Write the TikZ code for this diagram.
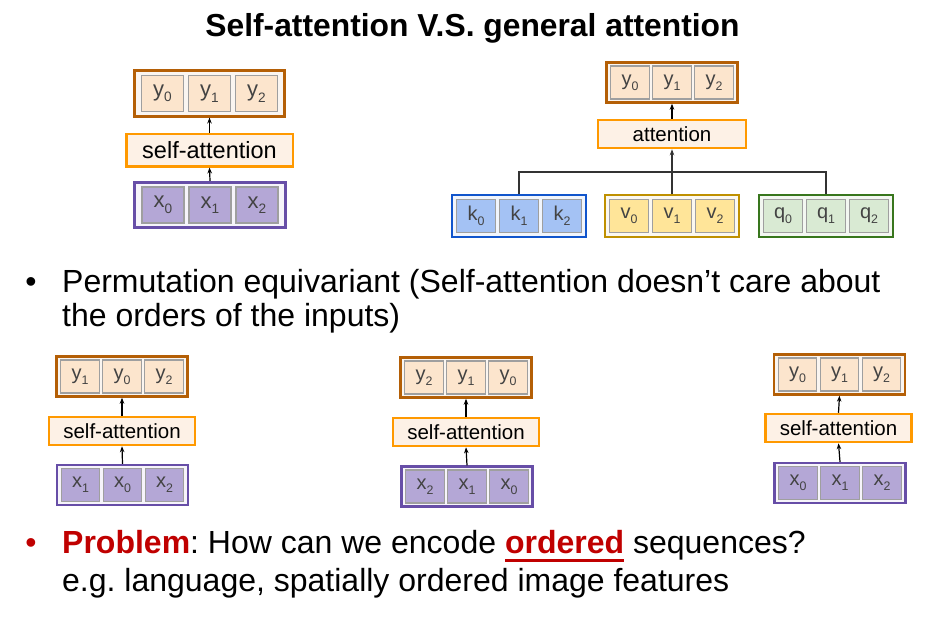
\documentclass[tikz,border=0pt]{standalone}
\usepackage{fontspec}
\setmainfont{Liberation Sans}
\usetikzlibrary{arrows.meta}

\definecolor{ybrd}{HTML}{B45F06}
\definecolor{yfill}{HTML}{FCE5CD}
\definecolor{xbrd}{HTML}{674EA7}
\definecolor{xfill}{HTML}{B4A7D6}
\definecolor{kbrd}{HTML}{1155CC}
\definecolor{kfill}{HTML}{A4C2F4}
\definecolor{vbrd}{HTML}{BF9000}
\definecolor{vfill}{HTML}{FFE599}
\definecolor{qbrd}{HTML}{38761D}
\definecolor{qfill}{HTML}{D9EAD3}
\definecolor{sabrd}{HTML}{FF9900}
\definecolor{safill}{HTML}{FDF1E6}
\definecolor{pred}{HTML}{C00000}
\definecolor{celltxt}{HTML}{434343}

\newcommand{\redline}[1]{\setbox0\hbox{#1}\rlap{\rule[-8.5pt]{\wd0}{2.5pt}}\box0}
\newcommand{\low}[1]{\raisebox{-0.25em}{\scalebox{0.62}{#1}}}
\frenchspacing

\begin{document}
\begin{tikzpicture}[x=1pt,y=-1pt,
    outer/.style={draw,line width=2.6pt,minimum width=150.5pt,minimum height=45.5pt,inner sep=0pt},
    souter/.style={draw,line width=2.4pt,minimum width=131pt,minimum height=40pt,inner sep=0pt},
    cell/.style={draw=gray!75,line width=1.3pt,minimum width=42pt,minimum height=36pt,inner sep=0pt,
                 text=celltxt,font=\fontsize{22}{22}\selectfont},
    scell/.style={cell,minimum width=38.5pt,minimum height=33pt,font=\fontsize{20}{20}\selectfont},
    sabox/.style={draw=sabrd,fill=safill,line width=2.5pt,minimum width=166.5pt,minimum height=32.5pt,
                  inner sep=0pt,font=\fontsize{23.5}{23.5}\selectfont},
    ssabox/.style={sabox,minimum width=146pt,minimum height=28pt,font=\fontsize{20.5}{20.5}\selectfont},
    arr/.style={-{Stealth[length=6pt,width=4.5pt]},line width=1.2pt},
    tree/.style={line width=1.3pt,draw=black!80},
    body/.style={anchor=base west,inner sep=0pt,font=\fontsize{32}{32}\selectfont}]

\useasboundingbox (0,0) rectangle (945,621);

% title
\node[anchor=base,font=\fontsize{31.8}{31.8}\selectfont\bfseries] (title) at (472.5,36)
    {Self-attention V.S. general attention};

% self-attention (top left)
\node[outer,draw=ybrd,fill=ybrd!6] (y0) at (209.5,93.5) {};
\node[cell,fill=yfill] (y0a) at ([xshift=-47pt]y0.center) {y\low{0}};
\node[cell,fill=yfill] (y0b) at (y0.center)               {y\low{1}};
\node[cell,fill=yfill] (y0c) at ([xshift=47pt]y0.center)  {y\low{2}};
\node[sabox] (sa0) at (209.5,150) {self-attention};
\node[outer,draw=xbrd,fill=xbrd!6] (x0) at (210,205) {};
\node[cell,fill=xfill] (x0a) at ([xshift=-47pt]x0.center) {x\low{0}};
\node[cell,fill=xfill] (x0b) at (x0.center)               {x\low{1}};
\node[cell,fill=xfill] (x0c) at ([xshift=47pt]x0.center)  {x\low{2}};
\draw[arr] (x0.north) -- (sa0.south);
\draw[arr] (sa0.north) -- (y0.south);

% general attention (top right)
\node[souter,draw=ybrd,fill=ybrd!6] (ya) at (672,82.5) {};
\node[scell,fill=yfill] (yaa) at ([xshift=-42pt]ya.center) {y\low{0}};
\node[scell,fill=yfill] (yab) at (ya.center)               {y\low{1}};
\node[scell,fill=yfill] (yac) at ([xshift=42pt]ya.center)  {y\low{2}};
\node[ssabox,minimum width=148pt] (att) at (672,134) {attention};
\node[souter,draw=kbrd,fill=kbrd!6,minimum width=133.5pt,minimum height=41.5pt] (k) at (519,216) {};
\node[scell,fill=kfill] (ka) at ([xshift=-43pt]k.center) {k\low{0}};
\node[scell,fill=kfill] (kb) at (k.center)               {k\low{1}};
\node[scell,fill=kfill] (kc) at ([xshift=43pt]k.center)  {k\low{2}};
\node[souter,draw=vbrd,fill=vbrd!6,minimum width=133.5pt,minimum height=41.5pt] (v) at (672,216) {};
\node[scell,fill=vfill] (va) at ([xshift=-43pt]v.center) {v\low{0}};
\node[scell,fill=vfill] (vb) at (v.center)               {v\low{1}};
\node[scell,fill=vfill] (vc) at ([xshift=43pt]v.center)  {v\low{2}};
\node[souter,draw=qbrd,fill=qbrd!6,minimum width=133.5pt,minimum height=41.5pt] (q) at (826,216) {};
\node[scell,fill=qfill] (qa) at ([xshift=-43pt]q.center) {q\low{0}};
\node[scell,fill=qfill] (qb) at (q.center)               {q\low{1}};
\node[scell,fill=qfill] (qc) at ([xshift=43pt]q.center)  {q\low{2}};
\coordinate (jn) at (672,172);
\draw[tree] (k.north) |- (jn) -| (q.north);
\draw[tree,arr] (v.north) -- (att.south);
\draw[arr] (att.north) -- (ya.south);

% bullet 1
\node[body,anchor=base] (b1) at (31,292) {•};
\node[body] (l1) at (62,292) {Permutation equivariant (Self-attention doesn’t care about};
\node[body] (l2) at (62,326) {the orders of the inputs)};

% permuted copies
\node[souter,draw=ybrd,fill=ybrd!6] (y1) at (122,376.5) {};
\node[scell,fill=yfill] (y1a) at ([xshift=-42pt]y1.center) {y\low{1}};
\node[scell,fill=yfill] (y1b) at (y1.center)               {y\low{0}};
\node[scell,fill=yfill] (y1c) at ([xshift=42pt]y1.center)  {y\low{2}};
\node[ssabox] (sa1) at (122,431) {self-attention};
\node[souter,draw=xbrd,fill=xbrd!6] (x1) at (122.5,485) {};
\node[scell,fill=xfill] (x1a) at ([xshift=-42pt]x1.center) {x\low{1}};
\node[scell,fill=xfill] (x1b) at (x1.center)               {x\low{0}};
\node[scell,fill=xfill] (x1c) at ([xshift=42pt]x1.center)  {x\low{2}};
\draw[arr] (x1.north) -- (sa1.south);
\draw[arr] (sa1.north) -- (y1.south);

\node[souter,draw=ybrd,fill=ybrd!6] (y2) at (466,377.5) {};
\node[scell,fill=yfill] (y2a) at ([xshift=-42pt]y2.center) {y\low{2}};
\node[scell,fill=yfill] (y2b) at (y2.center)               {y\low{1}};
\node[scell,fill=yfill] (y2c) at ([xshift=42pt]y2.center)  {y\low{0}};
\node[ssabox] (sa2) at (466,432) {self-attention};
\node[souter,draw=xbrd,fill=xbrd!6] (x2) at (467,486.5) {};
\node[scell,fill=xfill] (x2a) at ([xshift=-42pt]x2.center) {x\low{2}};
\node[scell,fill=xfill] (x2b) at (x2.center)               {x\low{1}};
\node[scell,fill=xfill] (x2c) at ([xshift=42pt]x2.center)  {x\low{0}};
\draw[arr] (x2.north) -- (sa2.south);
\draw[arr] (sa2.north) -- (y2.south);

\node[souter,draw=ybrd,fill=ybrd!6] (y3) at (839.5,374.5) {};
\node[scell,fill=yfill] (y3a) at ([xshift=-42pt]y3.center) {y\low{0}};
\node[scell,fill=yfill] (y3b) at (y3.center)               {y\low{1}};
\node[scell,fill=yfill] (y3c) at ([xshift=42pt]y3.center)  {y\low{2}};
\node[ssabox] (sa3) at (838.5,428) {self-attention};
\node[souter,draw=xbrd,fill=xbrd!6] (x3) at (840,483) {};
\node[scell,fill=xfill] (x3a) at ([xshift=-42pt]x3.center) {x\low{0}};
\node[scell,fill=xfill] (x3b) at (x3.center)               {x\low{1}};
\node[scell,fill=xfill] (x3c) at ([xshift=42pt]x3.center)  {x\low{2}};
\draw[arr] (x3.north) -- (sa3.south);
\draw[arr] (sa3.north) -- (y3.south);

% bullet 2
\node[body,anchor=base,text=pred] (b2) at (31,553) {•};
\node[body] (l3) at (62,553) {\textcolor{pred}{\bfseries Problem}: How can we encode
    \textcolor{pred}{\redline{\bfseries ordered}} sequences?};
\node[body] (l4) at (62,591) {e.g. language, spatially ordered image features};
\end{tikzpicture}
\end{document}
